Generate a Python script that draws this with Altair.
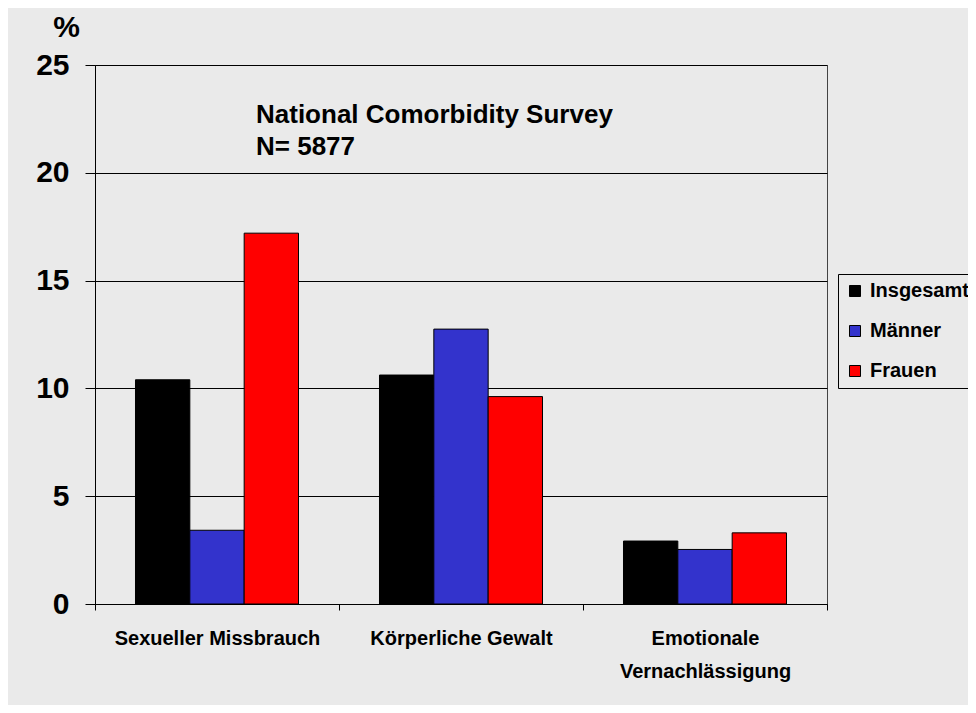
import altair as alt
import pandas as pd

categories = ["Sexueller Missbrauch", "Körperliche Gewalt", "Emotionale Vernachlässigung"]
series = ["Insgesamt", "Männer", "Frauen"]
insgesamt = [10.4, 10.62, 2.92]
maenner = [3.42, 12.75, 2.53]
frauen = [17.2, 9.62, 3.3]
colors = ["#000000", "#3333CC", "#FF0000"]
y_ticks = [0, 5, 10, 15, 20, 25]
title_lines = ["National Comorbidity Survey", "N= 5877"]
y_title = "%"

rows = []
for i, cat in enumerate(categories):
    for s, vals in zip(series, [insgesamt, maenner, frauen]):
        rows.append({"Kategorie": cat, "Gruppe": s, "Wert": vals[i]})
df = pd.DataFrame(rows)

FONT = "Liberation Sans, Arial"

bars = alt.Chart(df).mark_bar(stroke="#000000", strokeWidth=1).encode(
    x=alt.X(
        "Kategorie:N",
        sort=categories,
        scale=alt.Scale(paddingInner=0, paddingOuter=0),
        axis=alt.Axis(
            title=None,
            labelAngle=0,
            tickBand="extent",
            tickSize=6,
            tickColor="#000000",
            domainColor="#000000",
            labelFont=FONT,
            labelFontSize=20,
            labelFontWeight="bold",
            labelColor="#000000",
            labelPadding=18,
            labelBaseline="top",
            labelLineHeight=33,
            labelLimit=0,
            grid=False,
            labelExpr="datum.value == 'Emotionale Vernachlässigung' ? ['Emotionale', 'Vernachlässigung'] : datum.label",
        ),
    ),
    xOffset=alt.XOffset(
        "Gruppe:N",
        sort=series,
        scale=alt.Scale(paddingInner=0, paddingOuter=0.745),
    ),
    y=alt.Y(
        "Wert:Q",
        scale=alt.Scale(domain=[0, 25], nice=False),
        axis=alt.Axis(
            values=y_ticks,
            title=y_title,
            titleAngle=0,
            titleX=-29,
            titleY=-29,
            titleAlign="center",
            titleBaseline="alphabetic",
            titleFont=FONT,
            titleFontSize=30,
            titleFontWeight="bold",
            titleColor="#000000",
            tickSize=10,
            tickColor="#000000",
            domainColor="#000000",
            gridColor="#000000",
            gridWidth=1,
            labelFont=FONT,
            labelFontSize=30,
            labelFontWeight="bold",
            labelColor="#000000",
            labelPadding=16,
        ),
    ),
    color=alt.Color(
        "Gruppe:N",
        sort=series,
        scale=alt.Scale(domain=series, range=colors),
        legend=alt.Legend(title=None),
    ),
)

title_df = pd.DataFrame({"t": ["\n".join(title_lines)]})
title_text = alt.Chart(title_df).mark_text(
    align="left",
    baseline="alphabetic",
    font=FONT,
    fontSize=26,
    fontWeight="bold",
    color="#000000",
    lineBreak="\n",
    lineHeight=32,
).encode(text="t:N", x=alt.value(161), y=alt.value(58))

chart = (
    alt.layer(bars, title_text)
    .properties(
        width=732,
        height=539,
        background="#EAEAEA",
        padding={"left": 87, "top": 57, "right": 141, "bottom": 101},
        autosize=alt.AutoSizeParams(type="none"),
    )
    .configure_view(stroke="#444444", strokeWidth=1)
    .configure_legend(
        orient="none",
        legendX=743,
        legendY=209,
        strokeColor="#000000",
        padding=7,
        symbolType="square",
        symbolSize=121,
        symbolStrokeColor="#000000",
        symbolStrokeWidth=1,
        symbolOpacity=1,
        labelFont=FONT,
        labelFontSize=20,
        labelFontWeight="bold",
        labelColor="#000000",
        labelOffset=5,
        labelLimit=0,
        rowPadding=20,
    )
)

chart.save("out.html", embed_options={"renderer": "svg", "actions": False})
